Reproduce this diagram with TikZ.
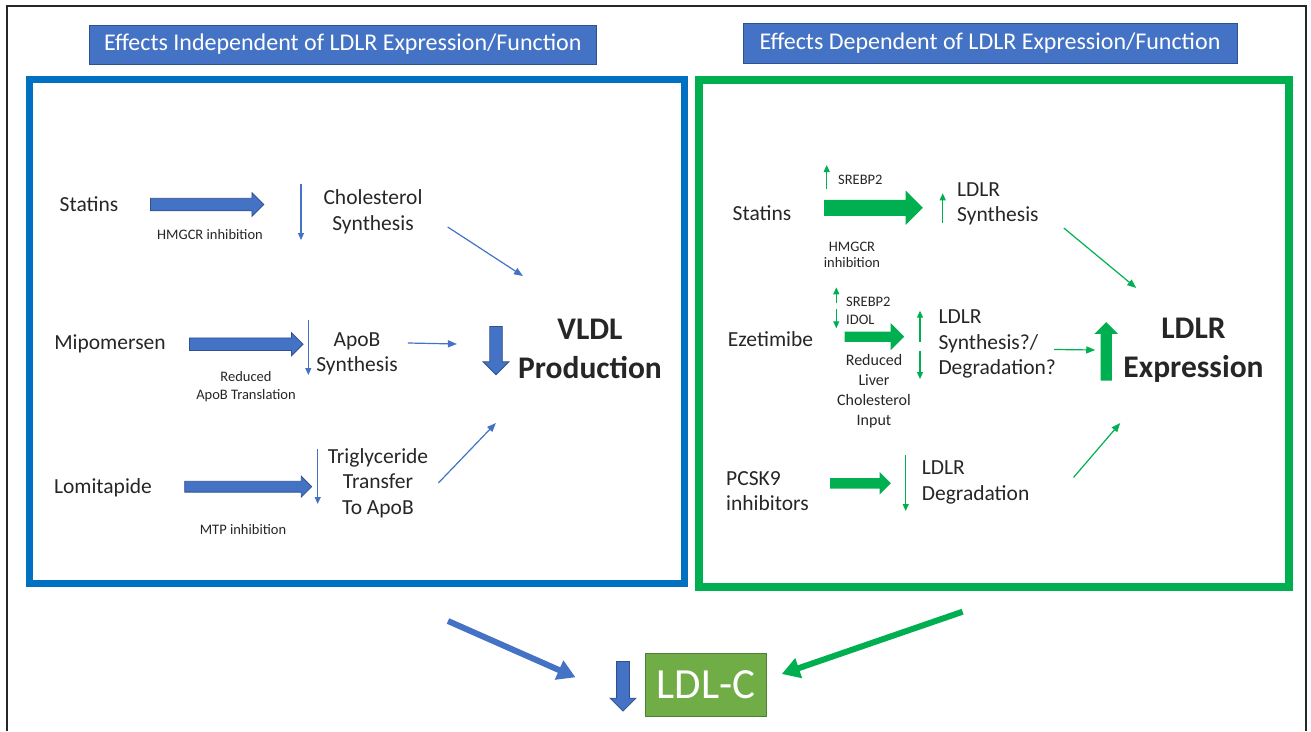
\documentclass[tikz,border=0pt]{standalone}
\usepackage{fontspec}
\setmainfont{Carlito}
\usetikzlibrary{shapes.arrows, arrows.meta}

\definecolor{pptblue}{RGB}{68,114,196}
\definecolor{pptbluedark}{RGB}{47,82,143}
\definecolor{frameblue}{RGB}{0,112,192}
\definecolor{pptgreen}{RGB}{0,176,80}
\definecolor{ldlgreen}{RGB}{112,173,71}
\definecolor{ldlgreendark}{RGB}{80,126,50}
\definecolor{txt}{RGB}{38,38,38}

\tikzstyle{titlebox} = [rectangle, fill=pptblue, draw=pptbluedark, line width=0.8pt, text=white, font=\fontsize{24}{28}\selectfont]
\tikzstyle{framebox} = [rectangle, draw, line width=7pt]
\tikzstyle{drug} = [text=txt, font=\fontsize{21.5}{25.5}\selectfont, align=center, inner sep=0pt]
\tikzstyle{effect} = [text=txt, font=\fontsize{21.5}{25.5}\selectfont, align=center, inner sep=0pt]
\tikzstyle{note} = [text=txt, font=\fontsize{14.5}{17.8}\selectfont, align=center, inner sep=0pt]
\tikzstyle{outcome} = [text=txt, font=\bfseries\fontsize{31.5}{39}\selectfont, align=center, inner sep=0pt]
\tikzstyle{bluebar} = [single arrow, single arrow head indent=0pt, inner sep=0pt, fill=pptblue, draw=pptbluedark, line width=0.8pt, anchor=tail]
\tikzstyle{greenbar} = [single arrow, single arrow head indent=0pt, inner sep=0pt, fill=pptgreen, anchor=tail]
\tikzstyle{bluelink} = [pptblue, line width=1.2pt, -{Triangle[length=9pt,width=7pt]}]
\tikzstyle{greenlink} = [pptgreen, line width=1.2pt, -{Triangle[length=9pt,width=7pt]}]
\tikzstyle{bluetick} = [pptblue, line width=1.1pt, -{Triangle[length=7pt,width=6pt]}]
\tikzstyle{greentick} = [pptgreen, line width=1.1pt, -{Triangle[length=7pt,width=6pt]}]
\tikzstyle{bigblue} = [pptblue, line width=6pt, -{Triangle[length=18pt,width=20pt]}]
\tikzstyle{biggreen} = [pptgreen, line width=6pt, -{Triangle[length=18pt,width=20pt]}]
\tikzstyle{ldlbox} = [rectangle, fill=ldlgreen, draw=ldlgreendark, line width=1pt, text=white, font=\fontsize{43}{50}\selectfont, minimum width=121pt, minimum height=63pt]

\begin{document}
\begin{tikzpicture}[x=1pt, y=-1pt]
\useasboundingbox (0,0) rectangle (1311,731);
\draw[line width=1.8pt, black!85] (7,731) -- (7,6) -- (1306,6) -- (1306,731);

% headers and panels
\node[titlebox, minimum width=507pt, minimum height=39pt] (ltitle) at (342.8,44.5) {Effects Independent of LDLR Expression/Function};
\node[titlebox, minimum width=494pt, minimum height=40pt] (rtitle) at (990,43) {Effects Dependent of LDLR Expression/Function};
\node[framebox, draw=frameblue, minimum width=655pt, minimum height=503.5pt] (lframe) at (356.5,331.25) {};
\node[framebox, draw=pptgreen, line width=8pt, minimum width=590pt, minimum height=507.5pt] (rframe) at (994,333.25) {};

% left panel
\node[drug] (lstat) at (89,204) {Statins};
\node[drug] (lmipo) at (110,344) {Mipomersen};
\node[drug] (llomi) at (103,488) {Lomitapide};
\node[bluebar, inner ysep=5.85pt, single arrow head extend=5.5pt, minimum height=113.3pt] (la1) at (150,204.5) {};
\node[bluebar, inner ysep=5.85pt, single arrow head extend=5.3pt, minimum height=113.7pt] (la2) at (189,344.2) {};
\node[bluebar, inner ysep=5pt, single arrow head extend=5pt, minimum height=127pt] (la3) at (184.3,486.7) {};
\node[note] (lhmg) at (210,235) {HMGCR inhibition};
\node[note] (lred) at (246,387) {Reduced\\ApoB Translation};
\node[note] (lmtp) at (243,530) {MTP inhibition};
\node[effect] (lchol) at (373,212) {Cholesterol\\Synthesis};
\node[effect] (lapob) at (357,354) {ApoB\\Synthesis};
\node[effect] (ltrig) at (378,483) {Triglyceride\\Transfer\\To ApoB};
\draw[bluetick] (301,184) -- (301,240);
\draw[bluetick] (308.3,320) -- (308.3,375);
\draw[bluetick] (317.7,449.3) -- (317.7,504);
\node[outcome] (vldl) at (590,349) {VLDL\\Production};
\node[bluebar, rotate=270, inner ysep=5.85pt, single arrow head extend=6.65pt, minimum height=48.3pt] (vdown) at (496,326) {};

\draw[bluelink] ([shift={(25,15)}]lchol.east) -- ([shift={(5,-73)}]vldl.west);
\draw[bluelink] ([shift={(10,-11)}]lapob.east) -- ([shift={(-61,-5)}]vldl.west);
\draw[bluelink] ([shift={(10,0)}]ltrig.east) -- ([shift={(-22,74)}]vldl.west);

% right panel
\node[drug] (rstat) at (762,213) {Statins};
\node[drug] (rezet) at (770.5,339) {Ezetimibe};
\node[drug, align=left, anchor=west] (rpcsk) at (726,491) {PCSK9\\inhibitors};
\node[greenbar, inner ysep=7.85pt, single arrow head extend=9.15pt, minimum height=98.7pt] (ra1) at (824,207.8) {};
\node[greenbar, inner ysep=5pt, single arrow head extend=8.5pt, minimum height=59.7pt] (ra2) at (844.3,336.7) {};
\node[greenbar, inner ysep=5pt, single arrow head extend=6pt, minimum height=60.7pt] (ra3) at (830,483.3) {};
\node[note, anchor=west] (rsre) at (838,180) {SREBP2};
\node[note, font=\fontsize{14.5}{16}\selectfont] (rhmg) at (852,254.7) {HMGCR\\inhibition};
\node[note, align=left, anchor=west] (ridol) at (846,310.5) {SREBP2\\IDOL};
\node[note, font=\fontsize{16}{19.7}\selectfont] (rliver) at (874,391.2) {Reduced\\Liver\\Cholesterol\\Input};
\draw[greentick] (826.7,189.3) -- (826.7,165);
\draw[greentick] (836.3,303.3) -- (836.3,287.3);
\draw[greentick] (836.3,309.3) -- (836.3,328.3);
\draw[greentick] (942.7,223.3) -- (942.7,193.3);
\draw[greentick] (920,341.7) -- (920,310.7);
\draw[greentick] (920,350.7) -- (920,379);
\draw[greentick] (905.7,455) -- (905.7,511);
\node[effect, align=left, anchor=west] (rsyn) at (957,204) {LDLR\\Synthesis};
\node[effect, align=left, anchor=west] (rsd) at (938.3,344) {LDLR\\Synthesis?/\\Degradation?};
\node[effect, align=left, anchor=west] (rdeg) at (921.7,482.5) {LDLR\\Degradation};
\node[outcome] (rexp) at (1193.5,350) {LDLR\\Expression};
\node[greenbar, rotate=90, inner ysep=5.5pt, single arrow head extend=6.15pt, minimum height=58.4pt] (rup) at (1106.2,380.7) {};

\draw[greenlink] ([shift={(25,24)}]rsyn.east) -- ([shift={(13,-62)}]rexp.west);
\draw[greenlink] ([shift={(-2,5.5)}]rsd.east) -- ([shift={(-28,0)}]rexp.west);
\draw[greenlink] ([shift={(44,-5)}]rdeg.east) -- ([shift={(-3,73)}]rexp.west);

% result
\node[ldlbox] (ldlc) at (706.2,684.8) {LDL-C};
\node[bluebar, rotate=270, inner ysep=6pt, single arrow head extend=6.5pt, minimum height=49.7pt] (ldown) at (623,661) {};
\draw[bigblue] ([shift={(91.5,34.5)}]lframe.south) -- ([shift={(-69.7,-7.5)}]ldlc.west);
\draw[biggreen] ([shift={(-31.4,20.7)}]rframe.south) -- ([shift={(14.5,-10.8)}]ldlc.east);

\end{tikzpicture}
\end{document}
